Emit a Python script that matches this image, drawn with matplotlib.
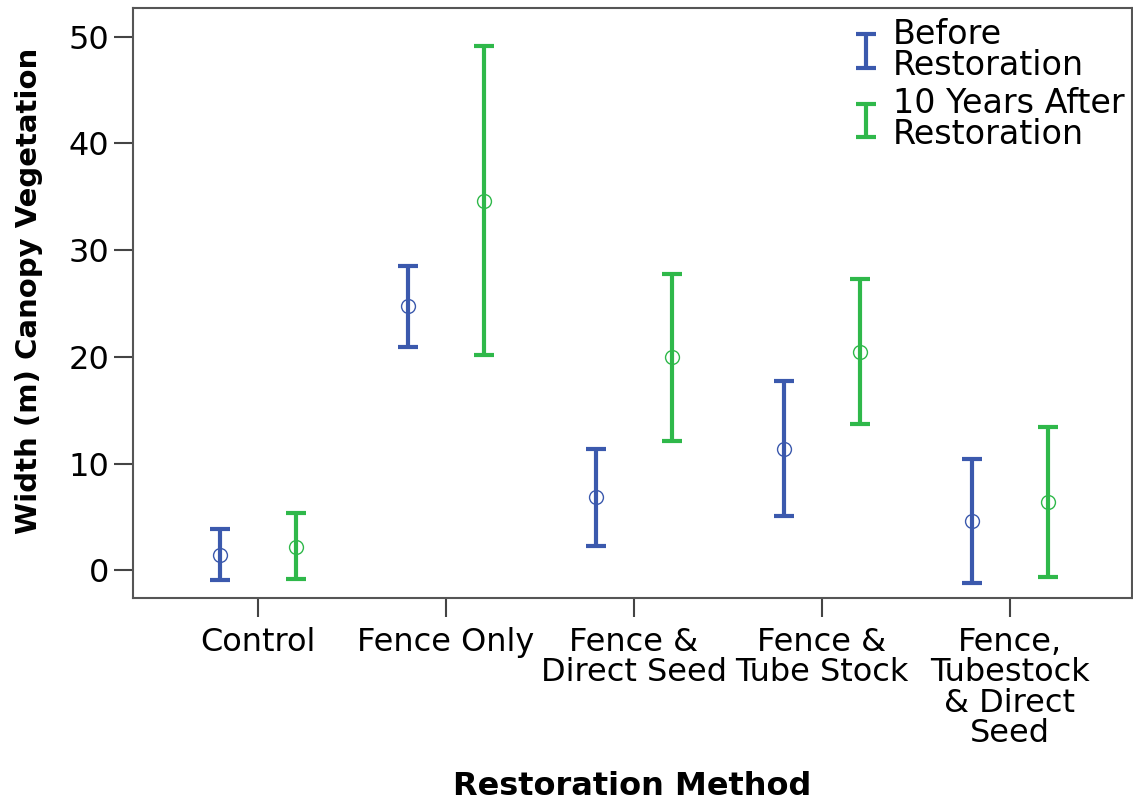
import matplotlib
matplotlib.use("Agg")
import matplotlib.pyplot as plt
import numpy as np

plt.rcParams['font.family'] = ['DejaVu Sans']

categories = ["Control", "Fence Only", "Fence &\nDirect Seed", "Fence &\nTube Stock",
              "Fence,\nTubestock\n& Direct\nSeed"]
series_names = ["Before\nRestoration", "10 Years After\nRestoration"]
before_mean = [1.4, 24.8, 6.9, 11.4, 4.6]
before_low = [-0.9, 20.9, 2.3, 5.1, -1.2]
before_high = [3.85, 28.5, 11.4, 17.7, 10.4]
after_mean = [2.2, 34.6, 20.0, 20.5, 6.4]
after_low = [-0.85, 20.2, 12.1, 13.7, -0.6]
after_high = [5.4, 49.1, 27.8, 27.3, 13.4]
yticks = [0, 10, 20, 30, 40, 50]

colors = ["#3b59ad", "#2fb84a"]

fig = plt.figure(figsize=(11.33, 8.02), dpi=100)
ax = fig.add_axes([133/1133, 1-598/802, 999/1133, 590/802])

x = np.arange(len(categories))
offsets = [-0.2, 0.2]
data = [(before_mean, before_low, before_high), (after_mean, after_low, after_high)]
handles = []
for (m, lo, hi), off, c, name in zip(data, offsets, colors, series_names):
    m = np.array(m); lo = np.array(lo); hi = np.array(hi)
    h = ax.errorbar(x + off, m, yerr=[m - lo, hi - m], fmt='none', ecolor=c,
                    elinewidth=3, capsize=7, capthick=3, label=name)
    ax.plot(x + off, m, 'o', mfc='none', mec=c, ms=10, mew=1.0)
    handles.append(h)

ax.set_xlim(-0.665, 4.649)
ax.set_ylim(-2.6, 52.7)
ax.set_xticks(x)
ax.set_xticklabels(categories, fontsize=23, linespacing=0.97)
ax.set_yticks(yticks)
ax.set_yticklabels([str(t) for t in yticks], fontsize=23)
ax.tick_params(axis='both', direction='out', length=14, width=1.5, color='#444444')
ax.tick_params(axis='x', pad=7)
ax.tick_params(axis='y', pad=3)
for s in ax.spines.values():
    s.set_color('#555555')
    s.set_linewidth(1.5)

ax.set_xlabel("Restoration Method", fontsize=23, fontweight='bold', labelpad=16)
ax.set_ylabel("Width (m) Canopy Vegetation", fontsize=21, fontweight='bold')
ax.yaxis.set_label_coords(-0.090, 0.52)

leg = ax.legend(handles=handles, loc='upper right', frameon=False, fontsize=24,
                handlelength=0.6, handletextpad=0.5, labelspacing=0.15,
                borderaxespad=0.1, bbox_to_anchor=(1.009, 1.012))
for t in leg.get_texts():
    t.set_linespacing(0.93)

fig.savefig("out.png", dpi=100)
